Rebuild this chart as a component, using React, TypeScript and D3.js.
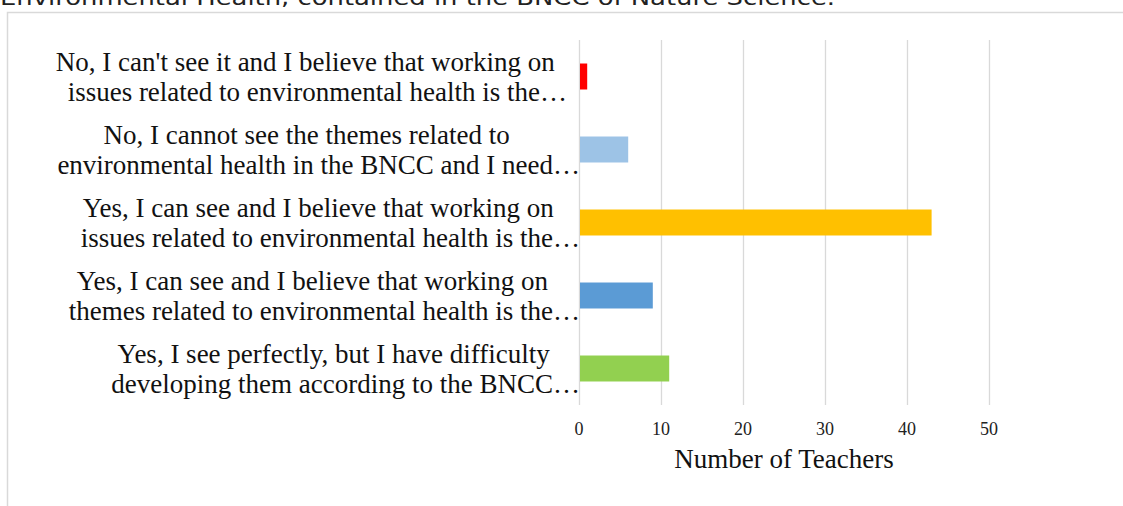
import React, { useEffect, useRef } from "react";
import * as d3 from "d3";

const categories = [
  "No, I can't see it and I believe that working on issues related to environmental health is the…",
  "No, I cannot see the themes related to environmental health in the BNCC and I need…",
  "Yes, I can see and I believe that working on issues related to environmental health is the…",
  "Yes, I can see and I believe that working on themes related to environmental health is the…",
  "Yes, I see perfectly, but I have difficulty developing them according to the BNCC…",
];
const labelLines = [
  ["No, I can't see it and I believe that working on", "issues related to environmental health is the…"],
  ["No, I cannot see the themes related to", "environmental health in the BNCC and I need…"],
  ["Yes, I can see and I believe that working on", "issues related to environmental health is the…"],
  ["Yes, I can see and I believe that working on", "themes related to environmental health is the…"],
  ["Yes, I see perfectly, but I have difficulty", "developing them according to the BNCC…"],
];
const values = [1, 6, 43, 9, 11];
const colors = ["#FF0000", "#9DC3E6", "#FFC000", "#5B9BD5", "#92D050"];
const xTicks = [0, 10, 20, 30, 40, 50];
const xTitle = "Number of Teachers";
const topText = "Environmental Health, contained in the BNCC of Nature Science.";

const W = 1123;
const H = 506;

export default function App() {
  const ref = useRef<SVGSVGElement>(null);

  useEffect(() => {
    const svg = d3.select(ref.current);
    svg.selectAll("*").remove();

    const x = d3.scaleLinear().domain([0, 50]).range([579, 989]);
    const y = d3
      .scaleBand<string>()
      .domain(categories)
      .range([40, 405])
      .paddingInner(0.644)
      .paddingOuter(0.322);

    // cut-off caption above the frame
    svg
      .append("text")
      .attr("x", 0)
      .attr("y", 5)
      .attr("font-family", "'DejaVu Sans', Verdana, sans-serif")
      .attr("font-size", 21)
      .attr("fill", "#222")
      .attr("textLength", 835)
      .attr("lengthAdjust", "spacingAndGlyphs")
      .text(topText);

    // frame
    svg
      .append("rect")
      .attr("x", 7.5)
      .attr("y", 12.5)
      .attr("width", 1125)
      .attr("height", 520)
      .attr("fill", "#fff")
      .attr("stroke", "#D9D9D9")
      .attr("stroke-width", 1.5);

    // gridlines
    svg
      .append("g")
      .selectAll("line")
      .data(xTicks)
      .join("line")
      .attr("x1", (d) => Math.round(x(d)) + 0.5)
      .attr("x2", (d) => Math.round(x(d)) + 0.5)
      .attr("y1", 40)
      .attr("y2", 405)
      .attr("stroke", "#D9D9D9")
      .attr("stroke-width", 1.3);

    // bars
    svg
      .append("g")
      .selectAll("rect")
      .data(categories)
      .join("rect")
      .attr("x", x(0) + 1)
      .attr("y", (d) => y(d)!)
      .attr("width", (d, i) => x(values[i]) - x(0) - 1)
      .attr("height", y.bandwidth())
      .attr("fill", (d, i) => colors[i]);

    // tick labels
    svg
      .append("g")
      .selectAll("text")
      .data(xTicks)
      .join("text")
      .attr("x", (d) => x(d))
      .attr("y", 435)
      .attr("text-anchor", "middle")
      .attr("font-family", "'Liberation Serif', 'Times New Roman', serif")
      .attr("font-size", 18)
      .attr("fill", "#222")
      .text((d) => String(d));

    // axis title
    svg
      .append("text")
      .attr("x", (x(0) + x(50)) / 2)
      .attr("y", 468)
      .attr("text-anchor", "middle")
      .attr("font-family", "'Liberation Serif', 'Times New Roman', serif")
      .attr("font-size", 27)
      .attr("fill", "#111")
      .text(xTitle);

    // category labels (two lines each)
    const labelRight = [567, 580, 580, 580, 580];
    const lg = svg.append("g");
    categories.forEach((c, i) => {
      const cy = y(c)! + y.bandwidth() / 2;
      const l2 = lg
        .append("text")
        .attr("x", labelRight[i])
        .attr("y", cy + 24)
        .attr("text-anchor", "end")
        .attr("font-family", "'Liberation Serif', 'Times New Roman', serif")
        .attr("font-size", 27)
        .attr("fill", "#111")
        .text(labelLines[i][1]);
      const w2 = (l2.node() as SVGTextElement).getComputedTextLength();
      lg.append("text")
        .attr("x", labelRight[i] - w2 / 2 - 12)
        .attr("y", cy - 6)
        .attr("text-anchor", "middle")
        .attr("font-family", "'Liberation Serif', 'Times New Roman', serif")
        .attr("font-size", 27)
        .attr("fill", "#111")
        .text(labelLines[i][0]);
    });
  }, []);

  return (
    <svg
      ref={ref}
      width={W}
      height={H}
      style={{ position: "absolute", left: 0, top: 0, background: "#fff" }}
    />
  );
}
